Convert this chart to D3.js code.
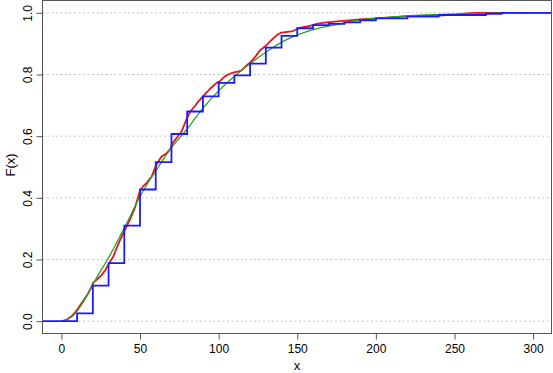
<!DOCTYPE html>
<html>
<head>
<meta charset="utf-8">
<script src="https://cdn.jsdelivr.net/npm/d3@7/dist/d3.min.js"></script>
<style>
  html, body { margin: 0; padding: 0; background: #fff; }
  svg { display: block; font-family: "Liberation Sans", Arial, Helvetica, sans-serif; }
</style>
</head>
<body>
<svg id="chart" width="553" height="373"></svg>
<script>
// ---- data ----
const xTicks = [0, 50, 100, 150, 200, 250, 300];
const yTicks = [0.0, 0.2, 0.4, 0.6, 0.8, 1.0];
const yTickLabels = ["0.0", "0.2", "0.4", "0.6", "0.8", "1.0"];
const xLabel = "x";
const yLabel = "F(x)";

// blue: grouped (binned) empirical CDF, jumps at bin edges
const binEdges = [10, 20, 30, 40, 50, 60, 70, 80, 90, 100, 110, 120, 130, 140, 150, 160, 170, 180, 190, 200, 220, 240, 270, 280];
const binCdf   = [0.025, 0.115, 0.188, 0.31, 0.427, 0.516, 0.607, 0.68, 0.729, 0.773, 0.797, 0.835, 0.887, 0.925, 0.95, 0.96, 0.964, 0.969, 0.976, 0.982, 0.988, 0.993, 0.997, 1.0];

// red: fine empirical CDF
const redX = [0.5, 3, 6, 8, 10.7, 12.8, 15, 17, 19, 20.2, 22.4, 25.6, 28, 29.8, 33, 35, 37.2, 40.4, 43.6, 46.7, 49.9, 52, 54.2, 57.4, 59.5, 61.6, 63.7, 66.9, 69, 70.5, 73.2, 76.4, 79.6, 82, 84.9, 87, 90.2, 94.4, 98.7, 101, 104, 106, 109.2, 112, 114.6, 117.8, 120, 124, 126.2, 130.5, 133.7, 137, 140, 147.4, 150.6, 158, 163, 168.6, 179.2, 189.8, 200.4, 212, 222, 240, 250, 258, 264, 280];
const redY = [0, 0.004, 0.014, 0.024, 0.042, 0.058, 0.074, 0.09, 0.11, 0.125, 0.134, 0.15, 0.166, 0.183, 0.21, 0.235, 0.262, 0.296, 0.329, 0.367, 0.421, 0.438, 0.448, 0.469, 0.497, 0.518, 0.534, 0.545, 0.556, 0.575, 0.594, 0.615, 0.655, 0.68, 0.698, 0.712, 0.73, 0.753, 0.773, 0.779, 0.794, 0.8, 0.806, 0.809, 0.813, 0.83, 0.838, 0.862, 0.878, 0.895, 0.912, 0.928, 0.936, 0.941, 0.95, 0.958, 0.965, 0.969, 0.974, 0.979, 0.982, 0.986, 0.99, 0.991, 0.994, 0.998, 1.0, 1.0];

// green: fitted smooth CDF
const greenX = [0, 4, 8.6, 13, 17, 23.4, 29.8, 36.1, 42, 49.5, 55, 60.5, 69, 79.6, 90.2, 100.8, 111.4, 122, 132.6, 143.2, 153.7, 164.4, 175, 185.5, 206.8, 220, 250, 280, 311];
const greenY = [0, 0.006, 0.024, 0.055, 0.09, 0.15, 0.204, 0.264, 0.322, 0.4, 0.448, 0.491, 0.556, 0.621, 0.692, 0.751, 0.8, 0.843, 0.881, 0.913, 0.935, 0.951, 0.962, 0.973, 0.985, 0.99, 0.996, 0.999, 1.0];

// ---- layout ----
const svg = d3.select("#chart");
const plot = { left: 42.5, right: 551.5, top: 0.5, bottom: 333.5 };

const x = d3.scaleLinear().domain([-12.02, 311.7]).range([plot.left, plot.right]);
const y = d3.scaleLinear().domain([-0.04, 1.04]).range([plot.bottom, plot.top]);

// grid
svg.append("g").selectAll("line").data(yTicks).join("line")
  .attr("x1", plot.left).attr("x2", plot.right)
  .attr("y1", d => y(d)).attr("y2", d => y(d))
  .attr("stroke", "#c4c4c4").attr("stroke-width", 1)
  .attr("stroke-dasharray", "2,2.5");

const clip = svg.append("clipPath").attr("id", "clip").append("rect")
  .attr("x", plot.left).attr("y", plot.top)
  .attr("width", plot.right - plot.left).attr("height", plot.bottom - plot.top);

const g = svg.append("g").attr("clip-path", "url(#clip)");

// red
const redPts = redX.map((v, i) => [v, redY[i]]);
g.append("path").datum(redPts)
  .attr("fill", "none").attr("stroke", "#e8141a").attr("stroke-width", 1.8)
  .attr("stroke-linejoin", "round")
  .attr("d", d3.line().x(d => x(d[0])).y(d => y(d[1])));

// green
const greenPts = greenX.map((v, i) => [v, greenY[i]]);
g.append("path").datum(greenPts)
  .attr("fill", "none").attr("stroke", "#28a028").attr("stroke-width", 1.3)
  .attr("d", d3.line().curve(d3.curveMonotoneX).x(d => x(d[0])).y(d => y(d[1])));

// blue step
const xd = x.domain();
const bluePts = [[xd[0], 0]].concat(binEdges.map((v, i) => [v, binCdf[i]])).concat([[xd[1], binCdf[binCdf.length - 1]]]);
g.append("path").datum(bluePts)
  .attr("fill", "none").attr("stroke", "#1a1aff").attr("stroke-width", 1.8)
  .attr("d", d3.line().curve(d3.curveStepAfter).x(d => x(d[0])).y(d => y(d[1])));

// box
svg.append("rect")
  .attr("x", plot.left).attr("y", plot.top)
  .attr("width", plot.right - plot.left).attr("height", plot.bottom - plot.top)
  .attr("fill", "none").attr("stroke", "#555").attr("stroke-width", 1);

// axes
const xAxis = svg.append("g").attr("transform", `translate(0,${plot.bottom})`)
  .call(d3.axisBottom(x).tickValues(xTicks).tickFormat(d3.format("d")).tickSize(6).tickPadding(5));
xAxis.select(".domain").remove();
xAxis.selectAll(".tick line").attr("stroke", "#555");
xAxis.selectAll("text").attr("font-size", 12).attr("fill", "#000")
  .attr("font-family", "Liberation Sans, Arial, sans-serif");

const yAxis = svg.append("g").attr("transform", `translate(${plot.left},0)`)
  .call(d3.axisLeft(y).tickValues(yTicks).tickFormat((d, i) => yTickLabels[i]).tickSize(6));
yAxis.select(".domain").remove();
yAxis.selectAll(".tick line").attr("stroke", "#555");
yAxis.selectAll("text")
  .attr("transform", "rotate(-90)")
  .attr("x", 0).attr("y", -10.5).attr("dy", null)
  .attr("text-anchor", "middle")
  .attr("font-size", 12).attr("fill", "#000")
  .attr("font-family", "Liberation Sans, Arial, sans-serif");

// axis titles
svg.append("text")
  .attr("x", (plot.left + plot.right) / 2).attr("y", 369.5)
  .attr("text-anchor", "middle").attr("font-size", 13).text(xLabel);
svg.append("text")
  .attr("transform", `translate(15,165) rotate(-90)`)
  .attr("text-anchor", "middle").attr("font-size", 13).text(yLabel);
</script>
</body>
</html>
